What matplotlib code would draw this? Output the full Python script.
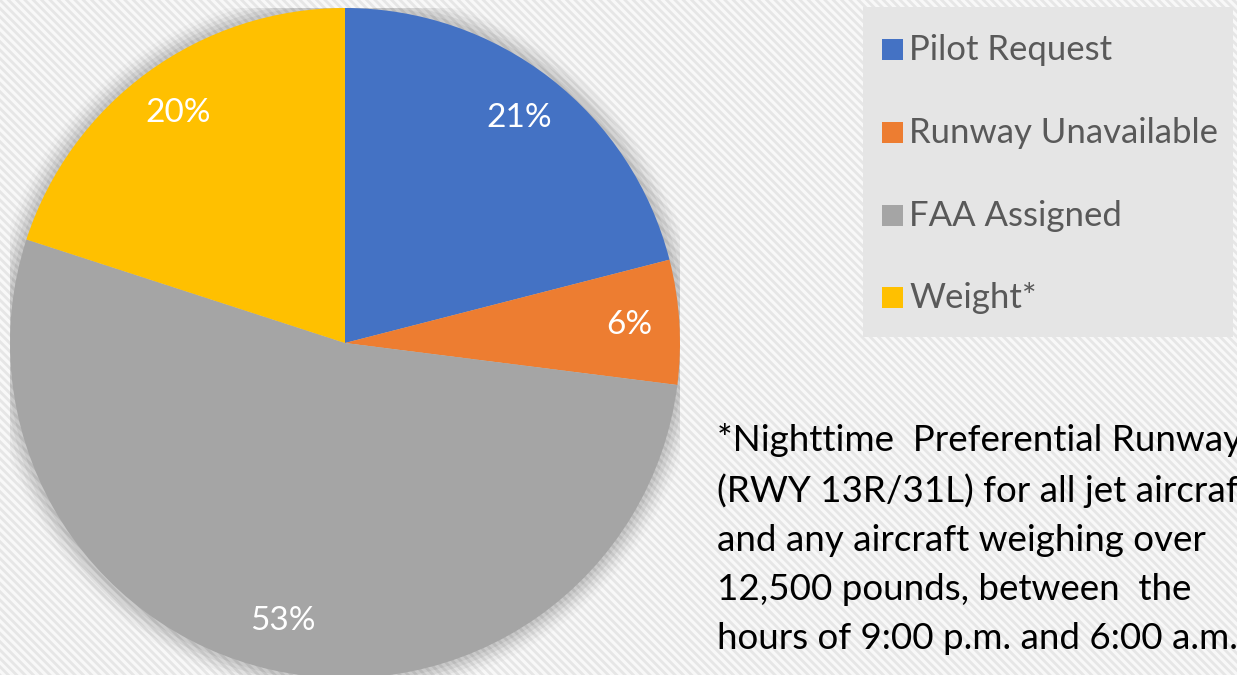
import matplotlib.pyplot as plt
from matplotlib.patches import Rectangle, Circle

# data
labels = ["Pilot Request", "Runway Unavailable", "FAA Assigned", "Weight*"]
shares = [21, 6, 53, 20]
colors = ["#4472C4", "#ED7D31", "#A5A5A5", "#FFC000"]

note = ("*Nighttime  Preferential Runway\n"
        "(RWY 13R/31L) for all jet aircraft\n"
        "and any aircraft weighing over\n"
        "12,500 pounds, between  the\n"
        "hours of 9:00 p.m. and 6:00 a.m.")

plt.rcParams['font.family'] = ['Lato', 'DejaVu Sans']
plt.rcParams['hatch.linewidth'] = 2.0
plt.rcParams['hatch.color'] = "#e6e6e6"

W, H = 1237, 675
fig = plt.figure(figsize=(W / 100, H / 100), dpi=100)
fig.patch.set_facecolor("white")

# striped background
bg = Rectangle((0, 0), 1, 1, transform=fig.transFigure, facecolor="#f8f8f8",
               edgecolor="#e6e6e6", hatch="\\\\\\\\", linewidth=0, zorder=-10)
fig.patches.append(bg)

# pie: centre (345, 343) px from top-left, radius 335 px
cx, cy, r = 345, H - 343, 335
ax = fig.add_axes([(cx - r) / W, (cy - r) / H, 2 * r / W, 2 * r / H])
ax.set_facecolor("none")

# soft shadow round the pie
for i, a in enumerate([0.05, 0.05, 0.04, 0.03, 0.02]):
    ax.add_patch(Circle((0, 0), 1 + 0.012 * (i + 1), facecolor="black",
                        alpha=a, edgecolor="none", zorder=0))

wedges, texts, autotexts = ax.pie(
    shares, colors=colors, startangle=90, counterclock=False,
    autopct=lambda p: f"{p:.0f}%", pctdistance=0.85, radius=1,
    wedgeprops=dict(linewidth=0), textprops=dict(color="white", fontsize=24))
for w in wedges:
    w.set_zorder(2)
for t in autotexts:
    t.set_zorder(3)
ax.set_xlim(-1, 1)
ax.set_ylim(-1, 1)
ax.set_aspect("equal")
ax.axis("off")

# legend box
lx0, ly0, lx1, ly1 = 863, 7, 1233, 337
fig.patches.append(Rectangle((lx0 / W, 1 - ly1 / H), (lx1 - lx0) / W, (ly1 - ly0) / H,
                             transform=fig.transFigure, facecolor="#e5e5e5",
                             edgecolor="none", zorder=1))
row_y = [49, 132, 215, 297]
for lab, col, yy in zip(labels, colors, row_y):
    fig.patches.append(Rectangle((882 / W, 1 - (yy + 11) / H), 21 / W, 21 / H,
                                 transform=fig.transFigure, facecolor=col,
                                 edgecolor="none", zorder=2))
    fig.text(909 / W, 1 - (yy + 1) / H, lab, fontsize=25, color="#595959",
             va="center", ha="left", zorder=3)

fig.text(717 / W, 1 - 423 / H, note, fontsize=26.5, color="black",
         va="top", ha="left", linespacing=1.585)

fig.savefig("out.png", dpi=100)
